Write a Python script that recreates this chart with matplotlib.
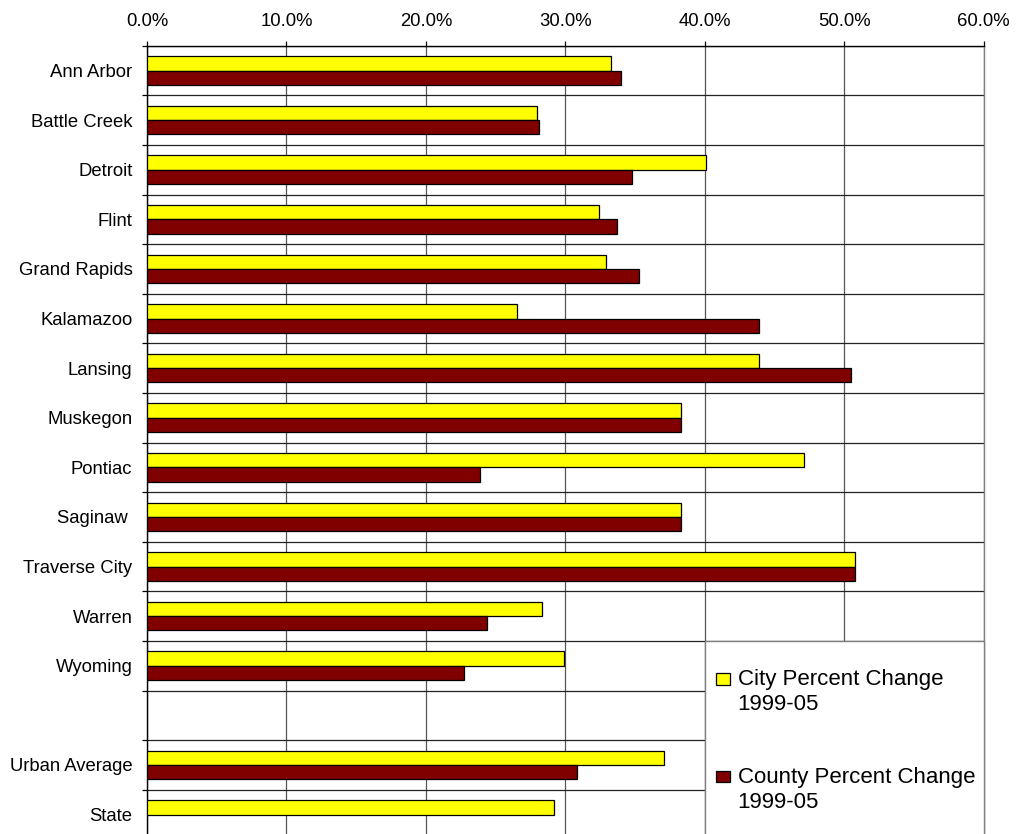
import matplotlib
matplotlib.use("Agg")
import matplotlib.pyplot as plt
import numpy as np
from matplotlib.patches import Rectangle
from matplotlib.ticker import FixedLocator

plt.rcParams['font.family'] = ['Liberation Sans', 'DejaVu Sans']

categories = ["Ann Arbor", "Battle Creek", "Detroit", "Flint", "Grand Rapids",
              "Kalamazoo", "Lansing", "Muskegon", "Pontiac", "Saginaw ",
              "Traverse City", "Warren", "Wyoming", "", "Urban Average", "State"]
nan = np.nan
city_pct = [33.3, 28.0, 40.1, 32.4, 32.9, 26.5, 43.9, 38.3, 47.1, 38.3,
            50.8, 28.3, 29.9, nan, 37.1, 29.2]
county_pct = [34.0, 28.1, 34.8, 33.7, 35.3, 43.9, 50.5, 38.3, 23.9, 38.3,
              50.8, 24.4, 22.7, nan, 30.8, nan]
x_ticks = [0, 10, 20, 30, 40, 50, 60]
x_tick_labels = ["0.0%", "10.0%", "20.0%", "30.0%", "40.0%", "50.0%", "60.0%"]
legend_labels = ["City Percent Change\n1999-05", "County Percent Change\n1999-05"]
city_color = "#FFFF00"
county_color = "#800000"

W, H = 1024, 834
fig = plt.figure(figsize=(W / 100, H / 100), dpi=100)
fig.patch.set_facecolor("white")

# axes placement in pixels
left_px, right_px = 147.0, 983.7
top_px, bottom_px = 45.7, 839.3
ax = fig.add_axes([left_px / W, 1 - bottom_px / H,
                   (right_px - left_px) / W, (bottom_px - top_px) / H])

n = len(categories)
y = np.arange(n)
bh = 0.287
ax.barh(y - bh / 2, city_pct, height=bh, color=city_color, edgecolor="black",
        linewidth=0.9, zorder=3)
ax.barh(y + bh / 2, county_pct, height=bh, color=county_color, edgecolor="black",
        linewidth=0.9, zorder=3)

ax.set_xlim(x_ticks[0], x_ticks[-1])
ax.set_ylim(n - 0.5, -0.5)

ax.xaxis.tick_top()
ax.set_xticks(x_ticks)
ax.set_xticklabels(x_tick_labels)
ax.tick_params(axis="x", which="major", direction="out", length=3.6,
               width=0.9, color="black", pad=8, labelsize=13.3)

ax.set_yticks(y)
ax.set_yticklabels(categories)
ax.tick_params(axis="y", which="major", length=0, pad=10.5, labelsize=13.3)
ax.yaxis.set_minor_locator(FixedLocator(np.arange(-0.5, n, 1.0)))
ax.tick_params(axis="y", which="minor", direction="out", length=3.6,
               width=0.9, color="black")

ax.set_axisbelow(True)
ax.grid(axis="x", which="major", color="#555555", linewidth=0.9, zorder=0)
ax.grid(axis="y", which="minor", color="#222222", linewidth=0.9, zorder=0)
ax.grid(axis="y", which="major", visible=False)

ax.spines["top"].set_color("black")
ax.spines["top"].set_linewidth(1.0)
ax.spines["left"].set_color("black")
ax.spines["left"].set_linewidth(1.0)
ax.spines["right"].set_color("#808080")
ax.spines["right"].set_linewidth(1.0)
ax.spines["bottom"].set_visible(False)

# legend box (white, covering grid in the lower right)
ax.add_patch(Rectangle((2 / 3, -0.01), 1 / 3, 0.26, transform=ax.transAxes,
                       facecolor="white", edgecolor="#808080", linewidth=1.0,
                       zorder=4, clip_on=False))

# legend entries
entries = [(legend_labels[0], city_color, 673.3, [685.3, 710.0]),
           (legend_labels[1], county_color, 770.7, [783.3, 807.7])]
for label, col, htop, baselines in entries:
    fig.add_artist(Rectangle((716 / W, 1 - (htop + 11.5) / H), 14 / W, 11.5 / H,
                             transform=fig.transFigure, facecolor=col,
                             edgecolor="black", linewidth=0.9, zorder=6))
    for line, bl in zip(label.split("\n"), baselines):
        fig.text(737.7 / W, 1 - bl / H, line, fontsize=16, va="baseline",
                 ha="left", zorder=6)

fig.savefig("out.png", dpi=100, facecolor="white")
